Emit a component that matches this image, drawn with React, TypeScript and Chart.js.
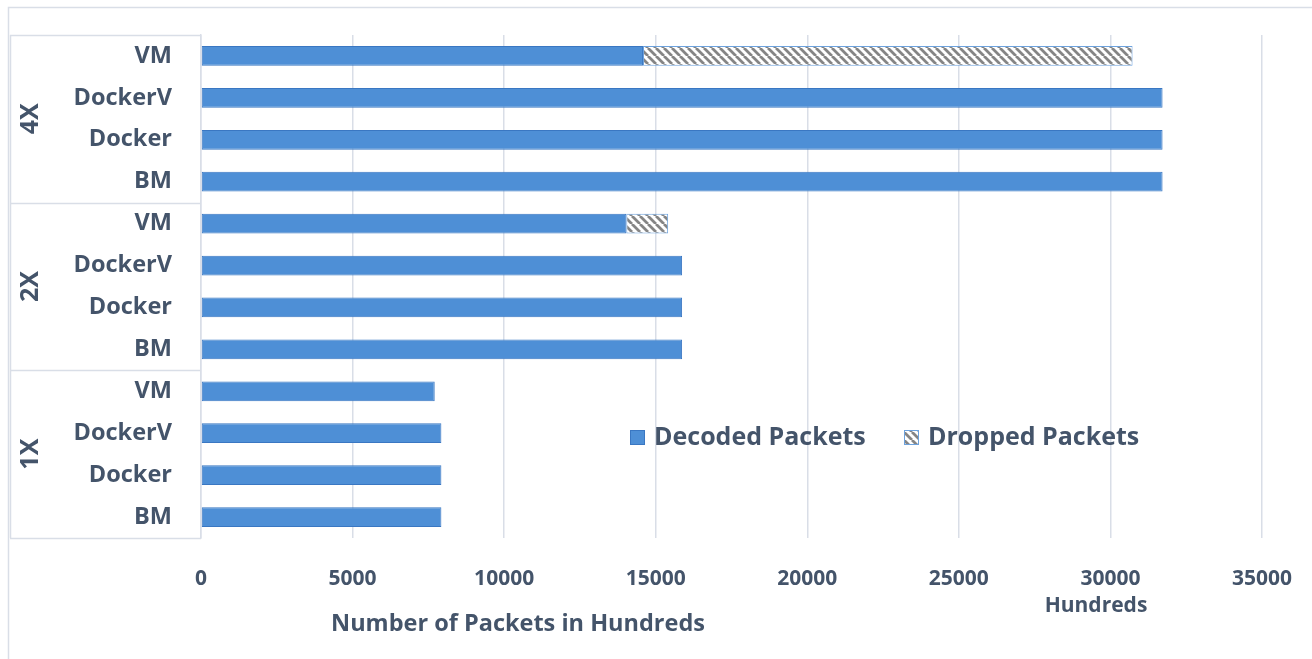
import React, { useEffect, useRef } from "react";
import { Chart, registerables } from "chart.js";

Chart.register(...registerables);

const groups = ["4X", "2X", "1X"];
const platforms = ["VM", "DockerV", "Docker", "BM"];
const categories = groups.flatMap(() => platforms);
const decoded = [14580, 31720, 31720, 31720, 14030, 15870, 15870, 15870, 7710, 7930, 7930, 7930];
const dropped = [16150, 0, 0, 0, 1380, 0, 0, 0, 0, 0, 0, 0];
const xTicks = [0, 5000, 10000, 15000, 20000, 25000, 30000, 35000];
const seriesNames = ["Decoded Packets", "Dropped Packets"];
const axisTitle = "Number of Packets in Hundreds";
const unitLabel = "Hundreds";

const TEXT = "#44546a";
const GRID = "#d9dee7";
const FONT = "'Open Sans', 'DejaVu Sans', sans-serif";
const BLUE = "#4e8fd6";
const BLUE_BORDER = "#3a77c2";

function makeHatch(): CanvasPattern | string {
  const c = document.createElement("canvas");
  const s = 8;
  c.width = s;
  c.height = s;
  const g = c.getContext("2d");
  if (!g) return "#999";
  g.fillStyle = "#ffffff";
  g.fillRect(0, 0, s, s);
  g.strokeStyle = "#858585";
  g.lineWidth = 2.8;
  g.beginPath();
  for (let k = -1; k <= 1; k++) {
    g.moveTo(k * s, 0);
    g.lineTo(k * s + s, s);
  }
  g.stroke();
  const p = g.createPattern(c, "repeat");
  return p || "#999";
}

export default function App() {
  const ref = useRef<HTMLCanvasElement | null>(null);

  useEffect(() => {
    if (!ref.current) return;
    const hatch = makeHatch();

    const decorPlugin = {
      id: "decor",
      afterDraw(chart: any) {
        const ctx = chart.ctx as CanvasRenderingContext2D;
        const area = chart.chartArea;
        const yScale = chart.scales.y;
        ctx.save();
        // outer frame
        ctx.strokeStyle = GRID;
        ctx.lineWidth = 1.5;
        ctx.beginPath();
        ctx.moveTo(8.5, chart.height);
        ctx.lineTo(8.5, 7.5);
        ctx.lineTo(chart.width, 7.5);
        ctx.stroke();

        // group boxes
        const boxLeft = 10;
        const bounds: number[] = [area.top];
        for (let gi = 1; gi < groups.length; gi++) {
          const a = yScale.getPixelForValue(gi * platforms.length - 1);
          const b = yScale.getPixelForValue(gi * platforms.length);
          bounds.push((a + b) / 2);
        }
        bounds.push(area.bottom);
        ctx.lineWidth = 1.5;
        ctx.beginPath();
        bounds.forEach((yy) => {
          ctx.moveTo(boxLeft, Math.round(yy) + 0.5);
          ctx.lineTo(area.left, Math.round(yy) + 0.5);
        });
        ctx.moveTo(boxLeft + 0.5, area.top);
        ctx.lineTo(boxLeft + 0.5, area.bottom);
        ctx.stroke();

        // group labels
        ctx.fillStyle = TEXT;
        ctx.font = `700 25px ${FONT}`;
        ctx.textAlign = "center";
        ctx.textBaseline = "middle";
        groups.forEach((g, i) => {
          const cy = (bounds[i] + bounds[i + 1]) / 2;
          ctx.save();
          ctx.translate(31, cy);
          ctx.rotate(-Math.PI / 2);
          ctx.fillText(g, 0, 0);
          ctx.restore();
        });

        // legend
        const ds = chart.data.datasets;
        const legY = area.top + 403;
        let lx = area.left + 429;
        ctx.font = `700 25px ${FONT}`;
        ctx.textAlign = "left";
        ds.forEach((d: any) => {
          ctx.fillStyle = d.backgroundColor;
          ctx.fillRect(lx, legY - 8, 15, 15);
          ctx.strokeStyle = d.borderColor;
          ctx.lineWidth = 1;
          ctx.strokeRect(lx + 0.5, legY - 7.5, 14, 14);
          ctx.fillStyle = TEXT;
          ctx.fillText(d.label, lx + 24, legY);
          lx += 274;
        });

        // axis title & unit label
        ctx.textAlign = "center";
        ctx.font = `700 23.5px ${FONT}`;
        ctx.fillText(axisTitle, area.left + 317, area.bottom + 86);
        ctx.font = `700 21px ${FONT}`;
        ctx.fillText(unitLabel, area.left + 895, area.bottom + 68);
        ctx.restore();
      },
    };

    const chart = new Chart(ref.current, {
      type: "bar",
      data: {
        labels: categories,
        datasets: [
          {
            label: seriesNames[0],
            data: decoded,
            backgroundColor: BLUE,
            borderColor: BLUE_BORDER,
            borderWidth: 1,
            borderSkipped: false,
            barPercentage: 0.47,
            categoryPercentage: 1,
          },
          {
            label: seriesNames[1],
            data: dropped,
            backgroundColor: hatch as any,
            borderColor: "#6da2dd",
            borderWidth: 1,
            borderSkipped: false,
            barPercentage: 0.47,
            categoryPercentage: 1,
          },
        ],
      },
      options: {
        indexAxis: "y",
        responsive: false,
        animation: false,
        devicePixelRatio: 1,
        layout: { padding: { left: 10, top: 35, right: 50, bottom: 0 } },
        plugins: {
          legend: { display: false },
          tooltip: { enabled: false },
        },
        scales: {
          x: {
            type: "linear",
            stacked: true,
            min: 0,
            max: 35000,
            afterBuildTicks: (scale: any) => {
              scale.ticks = xTicks.map((v) => ({ value: v }));
            },
            afterFit: (scale: any) => {
              scale.height = 121;
              scale.paddingLeft = 0;
              scale.paddingRight = 0;
            },
            grid: { color: GRID, lineWidth: 1.5, drawTicks: false },
            border: { display: false },
            ticks: {
              padding: 28,
              color: TEXT,
              font: { family: FONT, size: 21, weight: "bold" },
              maxRotation: 0,
              autoSkip: false,
              callback: (v: any) => String(v),
            },
          },
          y: {
            type: "category",
            stacked: true,
            afterFit: (scale: any) => {
              scale.width = 191;
              scale.paddingTop = 0;
              scale.paddingBottom = 0;
            },
            grid: { display: false, drawTicks: false },
            border: { display: true, color: GRID, width: 1.5 },
            ticks: {
              padding: 29,
              color: TEXT,
              font: { family: FONT, size: 23.5, weight: "bold" },
              autoSkip: false,
            },
          },
        },
      },
      plugins: [decorPlugin],
    } as any);

    return () => chart.destroy();
  }, []);

  return (
    <div style={{ position: "absolute", left: 0, top: 0, width: 1312, height: 659, background: "#fff" }}>
      <canvas ref={ref} width={1312} height={659} />
    </div>
  );
}
